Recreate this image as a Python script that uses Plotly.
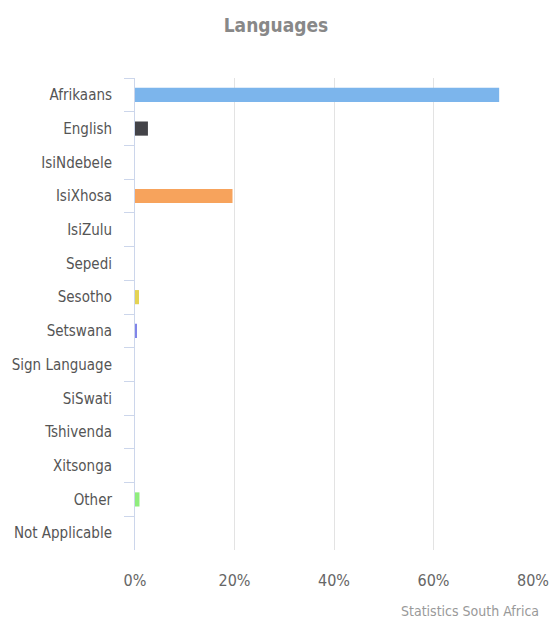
import plotly.graph_objects as go

categories = ["Afrikaans", "English", "IsiNdebele", "IsiXhosa", "IsiZulu", "Sepedi",
              "Sesotho", "Setswana", "Sign Language", "SiSwati", "Tshivenda",
              "Xitsonga", "Other", "Not Applicable"]
values = [73.2, 2.6, 0.0, 19.6, 0.0, 0.0, 0.8, 0.4, 0.0, 0.0, 0.0, 0.0, 0.9, 0.0]
colors = ["#7cb5ec", "#434348", "#90ed7d", "#f7a35c", "#8085e9", "#f15c80",
          "#e4d354", "#8085e9", "#f45b5b", "#91e8e1", "#7cb5ec", "#434348",
          "#90ed7d", "#f7a35c"]
x_ticks = [0, 20, 40, 60, 80]
x_tick_labels = ["0%", "20%", "40%", "60%", "80%"]

font_family = "Liberation Sans Narrow, DejaVu Sans Condensed, Arial Narrow, sans-serif"

fig = go.Figure(go.Bar(
    y=categories, x=values, orientation="h",
    marker=dict(color=colors, line=dict(width=0)),
    width=0.42,
))

fig.update_layout(
    width=552, height=628,
    margin=dict(l=135, r=19, t=78, b=78),
    paper_bgcolor="white", plot_bgcolor="white",
    showlegend=False,
    title=dict(text="<b>Languages</b>", x=0.5, xanchor="center", y=1 - 25 / 628,
               yanchor="middle", font=dict(family=font_family, size=19, color="#888888")),
    font=dict(family=font_family, size=15, color="#555555"),
    xaxis=dict(range=[0, 80], tickvals=x_ticks, ticktext=x_tick_labels,
               showgrid=True, gridcolor="#e3e3e3", gridwidth=1, zeroline=False,
               showline=False, ticks="", ticklabelstandoff=19, automargin=False,
               tickfont=dict(size=16, color="#666666"), fixedrange=True),
    yaxis=dict(categoryorder="array", categoryarray=categories, autorange="reversed",
               showline=True, linecolor="#ccd6eb", linewidth=1,
               ticks="outside", tickson="boundaries", ticklen=10, tickcolor="#ccd6eb",
               ticklabelstandoff=19, showgrid=False, automargin=False,
               tickfont=dict(size=15, color="#555555"), fixedrange=True),
    bargap=0.58,
)

fig.add_annotation(text="Statistics South Africa", xref="paper", yref="paper",
                   x=1 + 8 / 398, y=-(611 - 550) / 472, xanchor="right", yanchor="middle",
                   showarrow=False, font=dict(family=font_family, size=14, color="#999999"))

fig.write_html("out.html", config={"displayModeBar": False},
               post_script="document.body.style.margin='0';")
